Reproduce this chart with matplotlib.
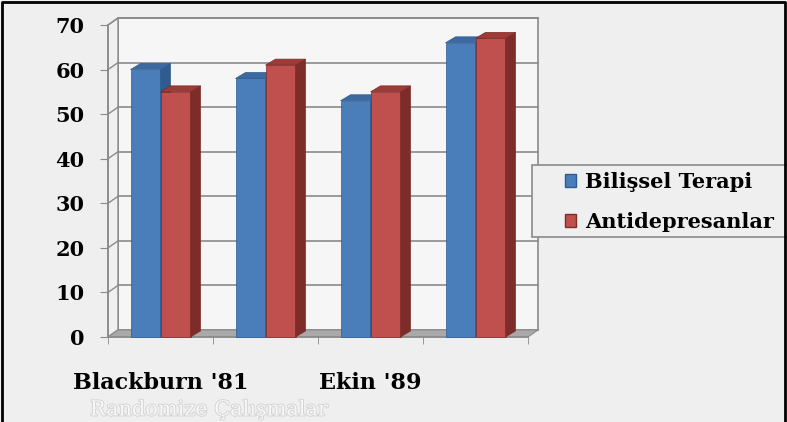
import matplotlib.pyplot as plt
from matplotlib.patches import Polygon, Patch, Rectangle
from matplotlib.lines import Line2D
import matplotlib.patheffects as pe

categories = ["Blackburn '81", "", "Ekin '89", ""]
bilissel = [60, 58, 53, 66]
antidep = [55, 61, 55, 67]
series_names = ["Bilişsel Terapi", "Antidepresanlar"]
yticks = [0, 10, 20, 30, 40, 50, 60, 70]

W, H = 787, 422
fig = plt.figure(figsize=(W / 100, H / 100), dpi=100)
fig.patch.set_facecolor('#efefef')

# pixel scale of the reference: 105 px per category, 44.57 px per 10 units
px_x = 105.0
px_y = 4.457
ax_l, ax_r, ax_b, ax_t = 40, 560, 350, 8
ax = fig.add_axes([ax_l / W, (H - ax_b) / H, (ax_r - ax_l) / W, (ax_b - ax_t) / H])
ax.set_xlim(-0.5 - (108 - ax_l) / px_x, -0.5 + (ax_r - 108) / px_x)
ax.set_ylim(-(ax_b - 337) / px_y, (337 - ax_t) / px_y)
ax.patch.set_visible(False)

n = len(categories)
top = yticks[-1]
dx, dy = 10 / px_x, 7 / px_y        # wall depth
bdx, bdy = 10 / px_x, 6 / px_y      # bar depth
bw = 30 / px_x
grid_c = '#8a8a8a'

# back wall + left wall
ax.add_patch(Polygon([(-0.5 + dx, dy), (n - 0.5 + dx, dy), (n - 0.5 + dx, top + dy), (-0.5 + dx, top + dy)],
                     closed=True, facecolor='#f6f6f6', edgecolor=grid_c, lw=1.2, zorder=1))
ax.add_patch(Polygon([(-0.5, 0), (-0.5 + dx, dy), (-0.5 + dx, top + dy), (-0.5, top)],
                     closed=True, facecolor='#f0f0f0', edgecolor=grid_c, lw=1.0, zorder=1))
for v in yticks:
    ax.plot([-0.5 + dx, n - 0.5 + dx], [v + dy, v + dy], color=grid_c, lw=1.2, zorder=1.5)
    ax.plot([-0.5, -0.5 + dx], [v, v + dy], color=grid_c, lw=1.0, zorder=1.5)

# floor
ax.add_patch(Polygon([(-0.5, 0), (n - 0.5, 0), (n - 0.5 + dx, dy), (-0.5 + dx, dy)],
                     closed=True, facecolor='#a9a9a9', edgecolor='#8f8f8f', lw=0.8, zorder=2))

colors = [('#4a7ebb', '#2f5b8f', '#3b6aa3'), ('#c0504d', '#7d2c2a', '#9e3a37')]
for s, vals in enumerate([bilissel, antidep]):
    front, side, topc = colors[s]
    xs = [i - bw + s * bw for i in range(n)]
    z = 3 + s
    ax.bar(xs, vals, width=bw, align='edge', color=front, edgecolor=side, lw=0.5, zorder=z)
    for x, v in zip(xs, vals):
        ax.add_patch(Polygon([(x + bw, 0), (x + bw + bdx, bdy), (x + bw + bdx, v + bdy), (x + bw, v)],
                             closed=True, facecolor=side, edgecolor=side, lw=0.5, zorder=z))
        ax.add_patch(Polygon([(x, v), (x + bw, v), (x + bw + bdx, v + bdy), (x + bdx, v + bdy)],
                             closed=True, facecolor=topc, edgecolor=side, lw=0.5, zorder=z))

# axes and ticks
for sp in ['top', 'right']:
    ax.spines[sp].set_visible(False)
ax.spines['left'].set_position(('data', -0.5))
ax.spines['left'].set_bounds(0, top)
ax.spines['bottom'].set_position(('data', 0))
ax.spines['bottom'].set_bounds(-0.5, n - 0.5)
for sp in ['left', 'bottom']:
    ax.spines[sp].set_color(grid_c)
    ax.spines[sp].set_linewidth(1.2)
    ax.spines[sp].set_zorder(2.5)

ax.set_yticks(yticks)
ax.set_yticklabels([str(v) for v in yticks], fontsize=15, fontweight='bold', family='DejaVu Serif')
ax.tick_params(axis='y', length=6, color=grid_c, pad=11)
ax.set_xticks(range(n))
ax.set_xticklabels(categories, fontsize=16, fontweight='bold', family='DejaVu Serif')
ax.set_xticks([i - 0.5 for i in range(n + 1)], minor=True)
ax.tick_params(axis='x', which='major', length=0, pad=25)
ax.tick_params(axis='x', which='minor', length=5, color=grid_c)

# legend frame (runs off the right edge like the original) + frameless legend inside
fig.add_artist(Rectangle((532 / W, 1 - 237 / H), 300 / W, 72 / H, transform=fig.transFigure,
                         facecolor='#efefef', edgecolor='#8a8a8a', lw=1.2))
handles = [Patch(facecolor=colors[0][0], edgecolor=colors[0][1]),
           Patch(facecolor=colors[1][0], edgecolor=colors[1][1])]
leg = fig.legend(handles, series_names, loc='center left',
                 bbox_to_anchor=(565 / W, 1 - 202 / H),
                 prop={'family': 'DejaVu Serif', 'weight': 'bold', 'size': 15},
                 handlelength=0.55, handleheight=0.55, handletextpad=0.4, labelspacing=0.95,
                 borderpad=0, borderaxespad=0, frameon=False)

# faint source line under the chart
fig.text(90 / W, 1 - 410 / H, "Randomize Çalışmalar", fontsize=15, family='DejaVu Serif',
         color='#f8f8f8', va='center',
         path_effects=[pe.withStroke(linewidth=1.2, foreground='#d0d0d0')])

# outer frame: top, left and right edges only
fig.add_artist(Line2D([2 / W, 2 / W, 785 / W, 785 / W], [0, 1 - 2 / H, 1 - 2 / H, 0],
                      transform=fig.transFigure, color='black', lw=2))

fig.savefig('out.png', dpi=100, facecolor=fig.get_facecolor())
